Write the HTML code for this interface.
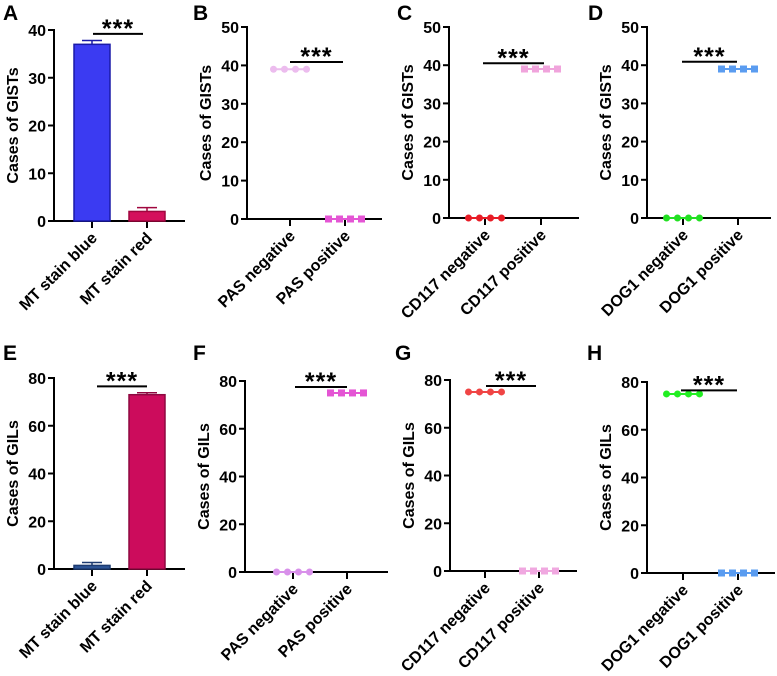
<!DOCTYPE html>
<html><head><meta charset="utf-8"><style>
html,body{margin:0;padding:0;background:#fff;}
svg{display:block;font-family:"Liberation Sans",Arial,sans-serif;font-weight:bold;}
</style></head><body>
<svg id="fig" width="777" height="676" viewBox="0 0 777 676" xmlns="http://www.w3.org/2000/svg"></svg>
<script>
// ---- data ----
const panelLetters = ["A","B","C","D","E","F","G","H"];
const panelTypes = ["bar","dot","dot","dot","bar","dot","dot","dot"];
const yTitles = ["Cases of GISTs","Cases of GISTs","Cases of GISTs","Cases of GISTs","Cases of GILs","Cases of GILs","Cases of GILs","Cases of GILs"];
const yMax = [40,50,50,50,80,80,80,80];
const yStep = [10,10,10,10,20,20,20,20];
const catsA = ["MT stain blue","MT stain red"];
const catsB = ["PAS negative","PAS positive"];
const catsC = ["CD117 negative","CD117 positive"];
const catsD = ["DOG1 negative","DOG1 positive"];
const categories = [catsA,catsB,catsC,catsD,catsA,catsB,catsC,catsD];
const valuesA = [37, 2];
const errorsA = [0.8, 0.8];
const valuesE = [1.5, 73];
const errorsE = [1.2, 0.8];
const dotsB = [[39,39,39,39],[0,0,0,0]];
const dotsC = [[0,0,0,0],[39,39,39,39]];
const dotsD = [[0,0,0,0],[39,39,39,39]];
const dotsF = [[0,0,0,0],[75,75,75,75]];
const dotsG = [[75,75,75,75],[0,0,0,0]];
const dotsH = [[75,75,75,75],[0,0,0,0]];
const seriesValues = [valuesA,dotsB,dotsC,dotsD,valuesE,dotsF,dotsG,dotsH];
const seriesErrors = [errorsA,null,null,null,errorsE,null,null,null];
const sigValues = [39.2,40.9,40.5,40.9,76.5,77.5,77.5,76.5];
const sigLabel = "***";

// ---- layout (pixels, not data) ----
const layout = [
 {ax:54,xe:185,y0:221,yt:30,tx:[92,147],sig:[93,143],lx:3,ly:20},
 {ax:247,xe:382,y0:219,yt:27,tx:[290,345],sig:[290,343],lx:193,ly:20},
 {ax:449,xe:579,y0:218,yt:27,tx:[485,541],sig:[483,544],lx:397,ly:20},
 {ax:647,xe:771,y0:218,yt:27,tx:[683,738],sig:[682,737],lx:588,ly:20},
 {ax:54,xe:185,y0:569,yt:378,tx:[92,147],sig:[97,147],lx:3,ly:360},
 {ax:245,xe:388,y0:572,yt:381,tx:[293,347],sig:[295,347],lx:193,ly:360},
 {ax:450,xe:577,y0:571,yt:380,tx:[485,539],sig:[486,536],lx:395,ly:360},
 {ax:647,xe:775,y0:573,yt:382,tx:[683,738],sig:[681,737],lx:587,ly:360}
];
const barFill = [["#3b3bf2","#d4105c"],null,null,null,["#2d5596","#cc0c5c"]];
const barStroke = [["#1a1aa8","#a0063f"],null,null,null,["#1c3a70","#8e0840"]];
const dotColors = [null,["#ecbcee","#e455d4"],["#e81c26","#f0a4dc"],["#22e022","#5a9cf0"],null,["#d890ea","#e455d4"],["#f04444","#f0a8e0"],["#22ee22","#5a9cf0"]];

const NS="http://www.w3.org/2000/svg";
const svg=document.getElementById('fig');
function mk(tag,attrs,parent){const e=document.createElementNS(NS,tag);for(const k in attrs)e.setAttribute(k,attrs[k]);(parent||svg).appendChild(e);return e;}

for(let p=0;p<8;p++){
  const L=layout[p];
  const g=mk('g',{});
  
  
  const ys=v=>L.y0-(v/yMax[p])*(L.y0-L.yt);
  const lt=mk('text',{x:L.lx,y:L.ly,'font-size':21,fill:'#000'},g);lt.textContent=panelLetters[p];
  
  
  const ya=mk('line',{x1:L.ax,y1:L.y0+1,x2:L.ax,y2:L.yt-1,stroke:'#000','stroke-width':2},g);
  
  
  const xa=mk('line',{x1:L.ax-1,y1:L.y0,x2:L.xe,y2:L.y0,stroke:'#000','stroke-width':2},g);
  
  
  for(let v=0;v<=yMax[p];v+=yStep[p]){
    const y=ys(v);
    mk('line',{x1:L.ax-6,y1:y,x2:L.ax,y2:y,stroke:'#000','stroke-width':2},g);
    const t=mk('text',{x:L.ax-8,y:y+6,'font-size':16,'text-anchor':'end',fill:'#000'},g);t.textContent=v;
    
    
  }
  const ymid=(L.y0+L.yt)/2;
  const tx=L.ax-36;
  const tt=mk('text',{x:tx,y:ymid,'font-size':16,'text-anchor':'middle',transform:`rotate(-90 ${tx} ${ymid})`,fill:'#000'},g);
  tt.textContent=yTitles[p];
  
  
  for(let c=0;c<2;c++){
    const x=L.tx[c];
    mk('line',{x1:x,y1:L.y0,x2:x,y2:L.y0+7,stroke:'#000','stroke-width':2},g);
    const lx=x+6, ly=L.y0+18;
    const cl=mk('text',{x:lx,y:ly,'font-size':16,'text-anchor':'end',transform:`rotate(-45 ${lx} ${ly})`,fill:'#000'},g);
    cl.textContent=categories[p][c];
    
    
    if(panelTypes[p]==='bar'){
      const v=seriesValues[p][c], e=seriesErrors[p][c];
      const bw=36;
      const r=mk('rect',{x:x-bw/2,y:ys(v),width:bw,height:L.y0-ys(v),fill:barFill[p][c],stroke:barStroke[p][c],'stroke-width':1.5},g);
      
      
      mk('line',{x1:x,y1:ys(v),x2:x,y2:ys(v+e),stroke:barStroke[p][c],'stroke-width':1.5},g);
      mk('line',{x1:x-10,y1:ys(v+e),x2:x+10,y2:ys(v+e),stroke:barStroke[p][c],'stroke-width':1.5},g);
    } else {
      const vals=seriesValues[p][c];
      const col=dotColors[p][c];
      const offs=[-16.5,-5.5,5.5,16.5];
      const pts=vals.map((v,i)=>[x+offs[i],ys(v)]);
      mk('polyline',{points:pts.map(q=>q.join(',')).join(' '),fill:'none',stroke:col,'stroke-width':2},g);
      pts.forEach(q=>{
        let m;
        if(c===0) m=mk('circle',{cx:q[0],cy:q[1],r:3.5,fill:col},g);
        else m=mk('rect',{x:q[0]-3.5,y:q[1]-3.5,width:7,height:7,fill:col},g);
        
        
      });
    }
  }
  const sy=ys(sigValues[p]);
  const sl=mk('line',{x1:L.sig[0],y1:sy,x2:L.sig[1],y2:sy,stroke:'#000','stroke-width':2},g);
  
  
  const st=mk('text',{x:(L.sig[0]+L.sig[1])/2,y:sy+3,'font-size':25,'letter-spacing':'1','text-anchor':'middle',fill:'#000'},g);
  st.textContent=sigLabel;
  
  
}
</script>
</body></html>
